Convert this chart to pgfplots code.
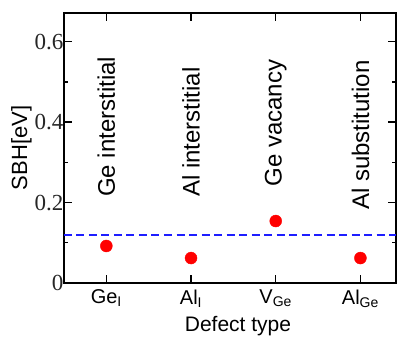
\documentclass[border=0pt]{standalone}
\usepackage{fontspec}
\setmainfont{Liberation Sans}
\newfontfamily\serif{Liberation Serif}
\usepackage{pgfplots}
\pgfplotsset{compat=1.18}
\begin{document}
\begin{tikzpicture}
\begin{axis}[
 at={(0,0)}, anchor=south west,
 scale only axis, width=332bp, height=270bp,
 xmin=-0.5, xmax=3.42, ymin=0, ymax=0.671,
 xtick={0,1,2,3},
 xticklabels={Ge\textsubscript{I}, Al\textsubscript{I}, V\textsubscript{Ge}, Al\textsubscript{Ge}},
 ytick={0,0.2,0.4,0.6}, yticklabels={0,0.2,0.4,0.6},
 minor ytick={0.1,0.3,0.5},
 tick align=inside, major tick length=8bp, minor tick length=4bp,
 axis line style={line width=2.2bp},
 every tick/.style={line width=1.4bp, black},
 xticklabel style={font=\fontsize{20bp}{22bp}\selectfont, yshift=-3bp},
 yticklabel style={font=\serif\fontsize{23bp}{25bp}\selectfont, xshift=3bp, text=black!85},
 xlabel={Defect type}, ylabel={SBH[eV]},
 xlabel style={font=\fontsize{21bp}{24bp}\selectfont, at={(axis description cs:0.524,-0.158)}, anchor=center},
 ylabel style={font=\fontsize{22bp}{24bp}\selectfont, at={(axis description cs:-0.128,0.5)}, anchor=center},
 clip=false,
]
\addplot[color={rgb,255:red,30;green,30;blue,255}, line width=1.8bp, dash pattern=on 8bp off 4.5bp] coordinates {(-0.5,0.12) (3.42,0.12)};
\addplot[only marks, mark=*, mark size=6bp, color=red] coordinates {(0,0.092) (1,0.062) (2,0.154) (3,0.062)};
\node[rotate=90, anchor=west, inner sep=0pt, font=\fontsize{24bp}{26bp}\selectfont] at (axis cs:0,0.214) {Ge interstitial};
\node[rotate=90, anchor=west, inner sep=0pt, font=\fontsize{24bp}{26bp}\selectfont] at (axis cs:1,0.214) {Al interstitial};
\node[rotate=90, anchor=west, inner sep=0pt, font=\fontsize{24bp}{26bp}\selectfont] at (axis cs:2,0.239) {Ge vacancy};
\node[rotate=90, anchor=west, inner sep=0pt, font=\fontsize{24bp}{26bp}\selectfont] at (axis cs:3,0.181) {Al substitution};
\end{axis}
\pgfresetboundingbox
\path (-64bp,-62bp) rectangle (333bp,283bp);
\end{tikzpicture}
\end{document}
